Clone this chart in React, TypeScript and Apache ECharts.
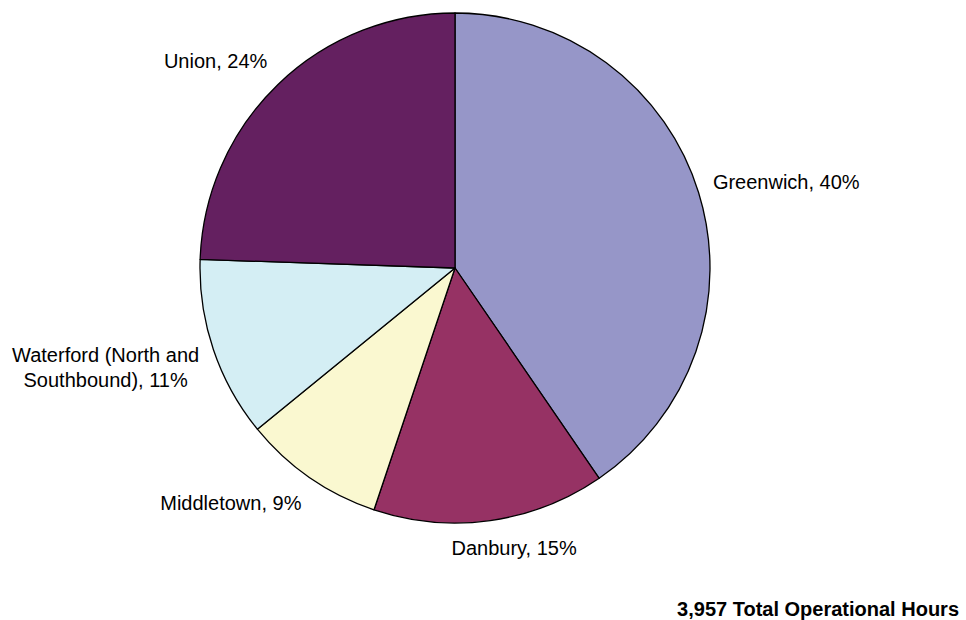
import React, { useEffect, useRef } from "react";
import * as echarts from "echarts";

const categories = [
  "Greenwich",
  "Danbury",
  "Middletown",
  "Waterford (North and\nSouthbound)",
  "Union",
];
const hours = [1600, 582, 355, 452, 968];
const colors = ["#9696C8", "#963264", "#FAF8D0", "#D4EEF4", "#642060"];

const CENTER: [number, number] = [455, 268];
const RADIUS = 255;
const GAP = 15;

export default function App() {
  const ref = useRef<HTMLDivElement>(null);
  useEffect(() => {
    if (!ref.current) return;
    const chart = echarts.init(ref.current, undefined, { renderer: "svg" });
    const total = hours.reduce((a, b) => a + b, 0);
    const cum: number[] = [];
    let acc = 0;
    hours.forEach((v) => {
      cum.push(acc + v / 2);
      acc += v;
    });
    const font = "Arial, 'Liberation Sans', sans-serif";
    const clamp = (v: number) => Math.max(-1, Math.min(1, v));
    chart.setOption({
      animation: false,
      backgroundColor: "#ffffff",
      title: {
        text: `${total.toLocaleString("en-US")} Total Operational Hours`,
        right: 2,
        bottom: -4,
        textStyle: {
          fontFamily: font,
          fontSize: 20,
          fontWeight: "bold",
          color: "#000",
        },
      },
      series: [
        {
          type: "pie",
          center: CENTER,
          radius: RADIUS,
          startAngle: 90,
          clockwise: true,
          avoidLabelOverlap: false,
          label: {
            show: true,
            position: "outside",
            fontFamily: font,
            fontSize: 20,
            color: "#000",
            lineHeight: 25,
            align: "center",
            formatter: (p: any) => `${p.name}, ${Math.round(p.percent)}%`,
          },
          labelLine: { show: false, length: GAP, length2: 0 },
          labelLayout: (params: any) => {
            const i = params.dataIndex;
            const ang = (cum[i] / total) * Math.PI * 2;
            const dx = Math.sin(ang);
            const dy = -Math.cos(ang);
            const r = RADIUS + GAP;
            const px = CENTER[0] + dx * r;
            const py = CENTER[1] + dy * r;
            const w = params.labelRect.width;
            const h = params.labelRect.height;
            return {
              x: px + clamp(2.5 * dx) * (w / 2),
              y: py + clamp(1.6 * dy) * (h / 2),
              align: "center",
              verticalAlign: "middle",
            };
          },
          itemStyle: { borderColor: "#000", borderWidth: 1.3 },
          emphasis: { disabled: true },
          data: categories.map((name, i) => ({
            name,
            value: hours[i],
            itemStyle: { color: colors[i] },
          })),
        },
      ],
    });
    return () => chart.dispose();
  }, []);
  return (
    <div
      ref={ref}
      style={{ position: "absolute", left: 0, top: 0, width: 966, height: 620 }}
    />
  );
}
